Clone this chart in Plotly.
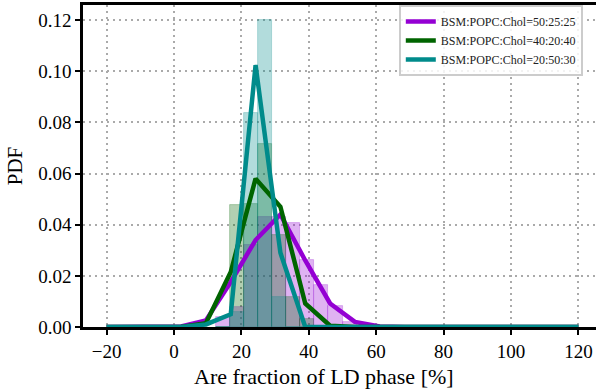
import plotly.graph_objects as go

# ---- data ----
bin_edges = [12.5, 16.67, 20.83, 25.0, 29.17, 33.33, 37.5, 41.67, 45.83, 50.0, 54.17]
hist_50_25_25 = [0.004, 0.008, 0.032, 0.043, 0.043, 0.0407, 0.0261, 0.0163, 0.0081, 0.002]
hist_40_20_40 = [0.0, 0.0476, 0.048, 0.0717, 0.0359, 0.0117, 0.003, 0.0, 0.0, 0.0]
hist_20_50_30 = [0.0, 0.006, 0.0837, 0.12, 0.0117, 0.0, 0.0, 0.0, 0.0, 0.0]

line_x = [-20.0, -12.63, -5.26, 2.11, 9.47, 16.84, 24.21, 31.58, 38.95, 46.32,
          53.68, 61.05, 68.42, 75.79, 83.16, 90.53, 97.89, 105.26, 112.63, 120.0]
line_50_25_25 = [0, 0, 0, 0.0002, 0.0026, 0.0176, 0.034, 0.044, 0.026, 0.0092,
                 0.002, 0.0002, 0, 0, 0, 0, 0, 0, 0, 0]
line_40_20_40 = [0, 0, 0, 0, 0.0015, 0.0215, 0.058, 0.047, 0.0092, 0.0005,
                 0, 0, 0, 0, 0, 0, 0, 0, 0, 0]
line_20_50_30 = [0, 0, 0, 0, 0.001, 0.005, 0.1024, 0.029, 0.0, 0,
                 0, 0, 0, 0, 0, 0, 0, 0, 0, 0]

names = ["BSM:POPC:Chol=50:25:25", "BSM:POPC:Chol=40:20:40", "BSM:POPC:Chol=20:50:30"]
colors_rgb = [(148, 0, 211), (0, 100, 0), (0, 139, 139)]
hists = [hist_50_25_25, hist_40_20_40, hist_20_50_30]
lines = [line_50_25_25, line_40_20_40, line_20_50_30]

x_title = "Are fraction of LD phase [%]"
y_title = "PDF"

centers = [(a + b) / 2 for a, b in zip(bin_edges[:-1], bin_edges[1:])]
widths = [b - a for a, b in zip(bin_edges[:-1], bin_edges[1:])]

fig = go.Figure()
for h, c in zip(hists, colors_rgb):
    r, g, b = c
    fig.add_trace(go.Bar(
        x=centers, y=h, width=widths,
        marker=dict(color=f"rgba({r},{g},{b},0.3)",
                    line=dict(color=f"rgba({r},{g},{b},0.3)", width=0.8)),
        showlegend=False, hoverinfo="skip"))

for l, c, n in zip(lines, colors_rgb, names):
    r, g, b = c
    fig.add_trace(go.Scatter(
        x=line_x, y=l, mode="lines", name=n,
        line=dict(color=f"rgb({r},{g},{b})", width=4.5)))

font_family = "Liberation Serif, Times New Roman, serif"
grid_kw = dict(showgrid=True, gridcolor="#aaaaaa", gridwidth=2, griddash="2px,4px")

# the reference is cropped on the right: the figure is wider than the window
fig.update_layout(
    width=612, height=391,
    margin=dict(l=83, r=10, t=5, b=64),
    plot_bgcolor="white", paper_bgcolor="white",
    barmode="overlay", bargap=0,
    font=dict(family=font_family, color="black", size=19),
    showlegend=True,
    legend=dict(
        x=0.963, y=1.0, xanchor="right", yanchor="top",
        xref="paper", yref="paper",
        bgcolor="rgba(255,255,255,0.85)", bordercolor="#cccccc", borderwidth=2,
        font=dict(size=12, family=font_family, color="#222222"),
        tracegroupgap=0, itemwidth=30),
    annotations=[dict(
        text=x_title, xref="paper", yref="paper",
        x=0.464, y=-0.155, xanchor="center", yanchor="middle",
        showarrow=False, font=dict(size=22, family=font_family, color="black"))],
)

fig.update_xaxes(
    range=[-27.0, 127.0], automargin=False,
    tickmode="array", tickvals=[-20, 0, 20, 40, 60, 80, 100, 120],
    showline=True, linecolor="black", linewidth=2.5, mirror=True,
    ticks="outside", ticklen=5, tickwidth=2, tickcolor="black",
    tickfont=dict(size=19), zeroline=False,
    layer="above traces",
    **grid_kw)

fig.update_yaxes(
    range=[0, 0.1259], automargin=False,
    tickmode="array", tickvals=[0, 0.02, 0.04, 0.06, 0.08, 0.10, 0.12],
    tickformat=".2f",
    showline=True, linecolor="black", linewidth=2.5, mirror=False,
    ticks="outside", ticklen=5, tickwidth=2, tickcolor="black",
    tickfont=dict(size=19), zeroline=False,
    title=dict(text=y_title, font=dict(size=21), standoff=10),
    layer="above traces",
    **grid_kw)

fig.write_html("out.html",
               config={"displayModeBar": False},
               post_script="document.body.style.margin='0px';"
                           "document.body.style.overflow='hidden';")
